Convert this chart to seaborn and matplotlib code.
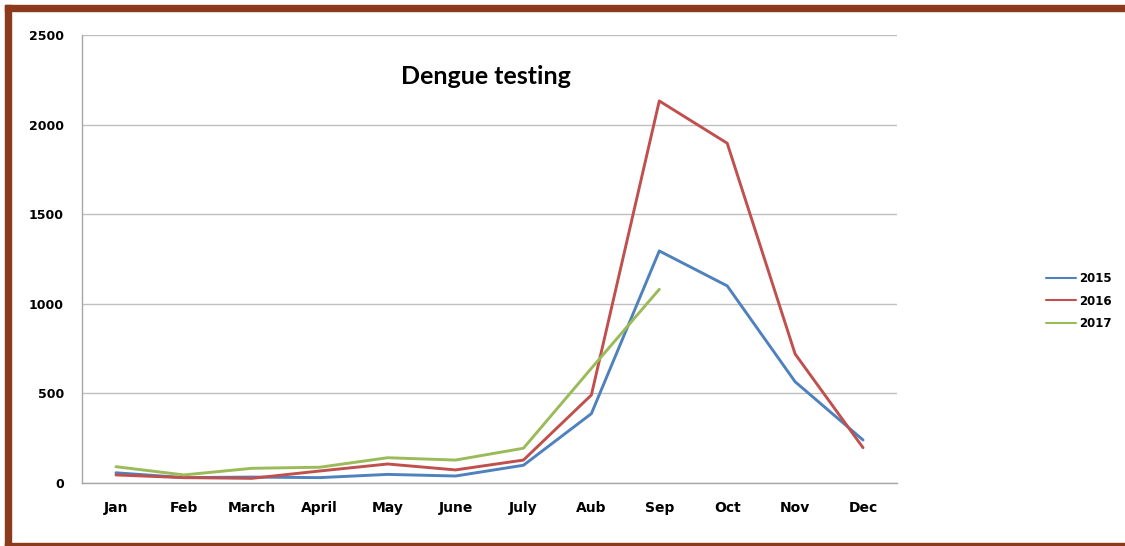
import numpy as np
import pandas as pd
import matplotlib
matplotlib.use("Agg")
import matplotlib.pyplot as plt
from matplotlib.patches import Rectangle
from matplotlib.lines import Line2D
import seaborn as sns

months = ["Jan", "Feb", "March", "April", "May", "June", "July",
          "Aub", "Sep", "Oct", "Nov", "Dec"]
tests_2015 = [57, 30, 33, 30, 48, 39, 99, 387, 1295, 1100, 565, 240]
tests_2016 = [45, 30, 26, 67, 106, 73, 128, 491, 2132, 1896, 720, 197]
tests_2017 = [91, 45, 82, 88, 141, 128, 194, 640, 1081]
years = ["2015", "2016", "2017"]
colors = ["#4F81BD", "#C0504D", "#9BBB59"]

rows = []
for yr, vals in zip(years, [tests_2015, tests_2016, tests_2017]):
    for m, v in zip(months, vals):
        rows.append({"month": m, "tests": v, "year": yr})
df = pd.DataFrame(rows)

sns.set_style("white")
plt.rcParams["font.family"] = ["DejaVu Sans"]
plt.rcParams["text.color"] = "black"
plt.rcParams["xtick.color"] = "black"
plt.rcParams["ytick.color"] = "black"

fig = plt.figure(figsize=(11.25, 5.46), dpi=100)
ax = fig.add_axes([82 / 1125, 63 / 546, 815 / 1125, 448 / 546])

sns.lineplot(data=df, x="month", y="tests", hue="year", palette=colors,
             hue_order=years, sort=False, linewidth=2.1, ax=ax, legend=False)

ax.set_xlim(-0.5, 11.5)
ax.set_ylim(0, 2500)
ax.set_yticks([0, 500, 1000, 1500, 2000, 2500])
ax.set_xticks(range(12))
ax.set_xticklabels(months)
ax.set_xticks(np.arange(-0.5, 12, 1), minor=True)
ax.set_xlabel("")
ax.set_ylabel("")

ax.grid(axis="y", color="#BFBFBF", linewidth=1.0)
ax.grid(axis="x", visible=False)
ax.set_axisbelow(True)
for side in ["top", "right"]:
    ax.spines[side].set_visible(False)
for side in ["left", "bottom"]:
    ax.spines[side].set_color("#A6A6A6")
    ax.spines[side].set_linewidth(1.0)

ax.tick_params(axis="x", which="major", length=0, pad=13,
               labelsize=10, labelcolor="black")
ax.tick_params(axis="x", which="minor", length=5, color="#A6A6A6",
               direction="out")
ax.tick_params(axis="y", length=5, color="#A6A6A6", pad=8, labelsize=9,
               labelcolor="black")
for lbl in ax.get_xticklabels() + ax.get_yticklabels():
    lbl.set_fontweight("bold")

fig.text(486 / 1125, 1 - 77 / 546, "Dengue testing", ha="center",
         va="center", fontsize=18, fontweight="bold", family="Lato",
         color="black")

handles = [Line2D([0], [0], color=c, linewidth=1.5) for c in colors]
leg = fig.legend(handles, years, loc="center left",
                 bbox_to_anchor=(1035 / 1125, 1 - 301 / 546),
                 frameon=False, handlelength=2.6, handletextpad=0.25,
                 labelspacing=0.8, prop={"size": 8.5, "weight": "bold"})
for t in leg.get_texts():
    t.set_color("black")

# brown frame around the chart
brown = "#8B3A1E"
fig.patches.append(Rectangle((5 / 1125, 0), 6 / 1125, 541 / 546,
                             transform=fig.transFigure, color=brown))
fig.patches.append(Rectangle((5 / 1125, 535 / 546), 1120 / 1125, 6 / 546,
                             transform=fig.transFigure, color=brown))
fig.patches.append(Rectangle((5 / 1125, 0), 1120 / 1125, 3 / 546,
                             transform=fig.transFigure, color=brown))

fig.savefig("out.png", dpi=100)
